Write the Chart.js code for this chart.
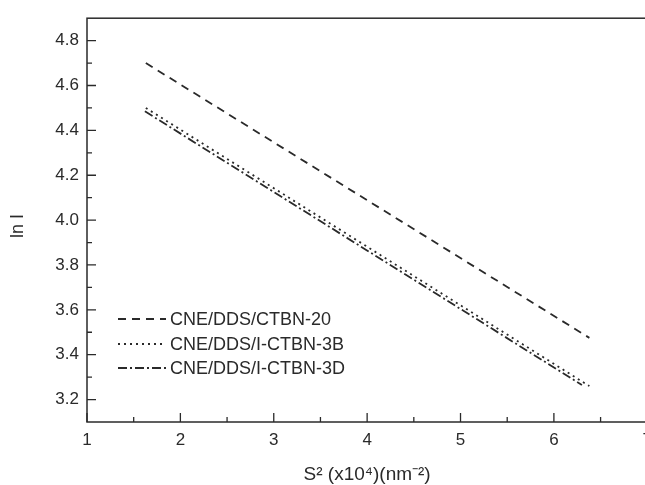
<!DOCTYPE html>
<html>
<head>
<meta charset="utf-8">
<script src="https://cdn.jsdelivr.net/npm/chart.js@4/dist/chart.umd.min.js"></script>
<style>
html,body{margin:0;padding:0;background:#fff;overflow:hidden;width:645px;height:485px;}
#wrap{width:660px;height:485px;}
</style>
</head>
<body>
<div id="wrap"><canvas id="c" width="660" height="485"></canvas></div>
<script>
// ---- data ----
const seriesLabels = ['CNE/DDS/CTBN-20', 'CNE/DDS/I-CTBN-3B', 'CNE/DDS/I-CTBN-3D'];
const xDashed  = [1.63, 6.38];
const yDashed  = [4.70, 3.475];
const xDotted  = [1.63, 6.38];
const yDotted  = [4.50, 3.26];
const xDashDot = [1.62, 6.30];
const yDashDot = [4.485, 3.265];

const xTicks = [1, 2, 3, 4, 5, 6, 7];
const xMinorTicks = [1.5, 2.5, 3.5, 4.5, 5.5, 6.5];
const yTicks = [3.2, 3.4, 3.6, 3.8, 4.0, 4.2, 4.4, 4.6, 4.8];
const yMinorTicks = [3.3, 3.5, 3.7, 3.9, 4.1, 4.3, 4.5, 4.7];
const xTitle = 'S\u00B2 (x10\u2074)(nm\u207B\u00B2)';
const yTitle = 'ln I';

const ink = '#2a2a2a';
const fontFam = '"Liberation Sans", Arial, sans-serif';

function pts(xs, ys) { return xs.map((x, i) => ({x: x, y: ys[i]})); }

const dashes = [[8, 6], [2, 4], [9, 3, 2, 3]];

const frameTicks = {
  id: 'frameTicks',
  afterDraw(chart) {
    const ctx = chart.ctx, a = chart.chartArea;
    const xs = chart.scales.x, ys = chart.scales.y;
    ctx.save();
    ctx.strokeStyle = ink;
    ctx.lineWidth = 1.5;
    ctx.strokeRect(a.left, a.top, a.right - a.left, a.bottom - a.top);
    ctx.lineWidth = 1.3;
    ctx.beginPath();
    xTicks.forEach(v => { const p = xs.getPixelForValue(v); ctx.moveTo(p, a.bottom); ctx.lineTo(p, a.bottom - 9); });
    xMinorTicks.forEach(v => { const p = xs.getPixelForValue(v); ctx.moveTo(p, a.bottom); ctx.lineTo(p, a.bottom - 5); });
    yTicks.forEach(v => { const p = ys.getPixelForValue(v); ctx.moveTo(a.left, p); ctx.lineTo(a.left + 9, p); });
    yMinorTicks.forEach(v => { const p = ys.getPixelForValue(v); ctx.moveTo(a.left, p); ctx.lineTo(a.left + 5, p); });
    ctx.stroke();

    // axis titles
    ctx.fillStyle = ink;
    ctx.font = '19px ' + fontFam;
    ctx.textAlign = 'center';
    ctx.textBaseline = 'middle';
    ctx.fillText(xTitle, (a.left + a.right) / 2, 475);
    ctx.font = '18px ' + fontFam;
    ctx.save();
    ctx.translate(18, 226);
    ctx.rotate(-Math.PI / 2);
    ctx.fillText(yTitle, 0, 0);
    ctx.restore();

    // legend inside the plot
    ctx.font = '18px ' + fontFam;
    ctx.textAlign = 'left';
    const ly = [319, 344, 368];
    chart.data.datasets.forEach((ds, i) => {
      ctx.save();
      ctx.strokeStyle = ink;
      ctx.lineWidth = 1.8;
      ctx.setLineDash(ds.borderDash);
      ctx.beginPath();
      ctx.moveTo(118, ly[i]);
      ctx.lineTo(166, ly[i]);
      ctx.stroke();
      ctx.restore();
      ctx.fillText(ds.label, 170, ly[i] + 1);
    });
    ctx.restore();
  }
};

new Chart(document.getElementById('c'), {
  type: 'scatter',
  data: {
    datasets: [
      {label: seriesLabels[0], data: pts(xDashed, yDashed), borderDash: dashes[0]},
      {label: seriesLabels[1], data: pts(xDotted, yDotted), borderDash: dashes[1]},
      {label: seriesLabels[2], data: pts(xDashDot, yDashDot), borderDash: dashes[2]}
    ].map(d => Object.assign(d, {showLine: true, pointRadius: 0, borderColor: ink, borderWidth: 1.8, fill: false}))
  },
  options: {
    responsive: false,
    animation: false,
    devicePixelRatio: 1,
    layout: {padding: {left: 0, top: 10, right: 11, bottom: 0}},
    plugins: {legend: {display: false}, tooltip: {enabled: false}},
    scales: {
      x: {
        type: 'linear', min: 1, max: 7,
        afterBuildTicks: s => { s.ticks = xTicks.map(v => ({value: v})); },
        afterFit: s => { s.height = 63; },
        grid: {display: false, drawTicks: false},
        border: {display: false},
        ticks: {color: ink, font: {size: 17, family: fontFam}, padding: 8, maxRotation: 0, autoSkip: false,
                callback: v => String(v)}
      },
      y: {
        type: 'linear', min: 3.1, max: 4.9,
        afterBuildTicks: s => { s.ticks = yTicks.map(v => ({value: v})); },
        afterFit: s => { s.width = 87; },
        grid: {display: false, drawTicks: false},
        border: {display: false},
        ticks: {color: ink, font: {size: 17, family: fontFam}, padding: 8, autoSkip: false,
                callback: v => Number(v).toFixed(1)}
      }
    }
  },
  plugins: [frameTicks]
});
</script>
</body>
</html>
